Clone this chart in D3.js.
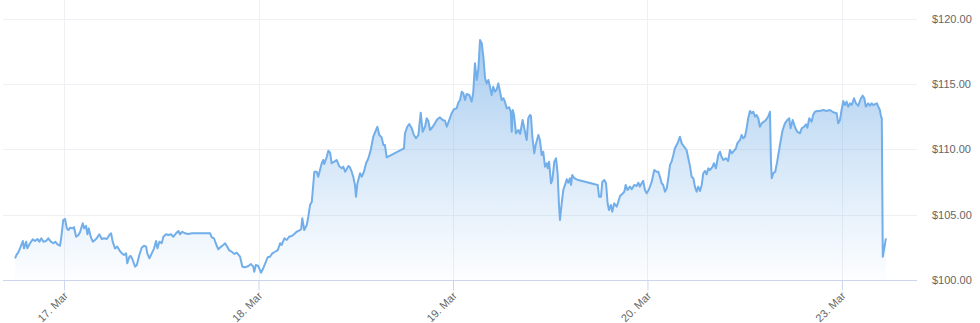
<!DOCTYPE html>
<html><head><meta charset="utf-8">
<script src="https://cdn.jsdelivr.net/npm/d3@7"></script>
<style>
html,body{margin:0;padding:0;background:#fff;}
svg{display:block;font-family:"Liberation Sans",Arial,sans-serif;}
</style></head>
<body><svg id="chart" width="980" height="323"></svg>
<script>
// time in trading days (0 = 17 Mar), price in USD
const times = [
-0.252,-0.243,-0.237,-0.223,-0.212,-0.206,-0.195,-0.189,-0.175,-0.161,-0.149,-0.137,-0.127,-0.117,-0.106,-0.093,-0.081,-0.068,-0.055,-0.045,-0.034,-0.021,-0.015,-0.004,
0.005,0.014,0.022,0.031,0.045,0.051,0.062,0.074,0.082,0.096,0.103,0.113,0.120,0.127,0.137,0.148,0.159,0.168,0.181,0.194,0.206,0.220,0.233,0.242,0.250,0.262,0.274,0.284,0.297,0.308,0.319,0.325,0.336,0.343,0.353,0.365,0.374,0.387,0.399,0.411,0.422,0.428,0.439,0.451,0.463,0.473,0.480,0.490,0.502,0.511,0.524,0.536,0.549,0.562,0.576,0.588,0.596,
0.608,0.622,0.639,0.657,0.751,0.759,0.771,0.780,0.793,0.807,0.819,0.828,0.837,0.848,0.862,0.876,0.888,0.905,0.917,0.931,0.948,0.961,0.973,0.978,0.986,0.999,
1.013,1.020,1.033,1.047,1.059,1.071,1.085,1.099,1.111,1.119,1.133,1.145,1.157,1.171,1.184,1.196,1.208,1.219,1.225,1.235,1.248,1.256,1.265,1.274,1.282,1.287,1.299,1.307,1.316,1.325,1.333,1.338,1.351,1.359,1.368,1.376,1.390,1.402,1.414,1.428,1.436,1.445,1.453,1.462,1.470,1.479,1.487,1.496,1.501,1.508,1.522,1.531,1.542,1.553,1.565,1.577,1.590,1.604,1.611,1.621,1.633,1.642,1.650,1.659,1.748,1.753,1.765,1.775,1.788,1.799,1.810,1.822,1.834,1.844,1.856,1.865,1.873,1.882,1.896,1.907,1.919,1.933,1.947,1.959,1.968,1.981,1.993,
2.005,2.019,2.027,2.036,2.045,2.053,2.062,2.070,2.084,2.096,2.104,2.113,2.122,2.130,2.139,2.148,2.156,2.165,2.173,2.182,2.190,2.199,2.207,2.216,2.225,2.233,2.242,2.250,2.259,2.267,2.276,2.289,2.297,2.302,2.307,2.314,2.324,2.336,2.345,2.358,2.370,2.379,2.387,2.396,2.401,2.408,2.418,2.425,2.439,2.447,2.456,2.464,2.473,2.482,2.487,2.494,2.504,2.511,2.521,2.530,2.538,2.545,2.550,2.559,2.567,2.576,2.585,2.593,2.601,2.607,2.613,2.624,2.636,2.644,2.744,2.751,2.761,2.768,2.778,2.787,2.795,2.802,2.812,2.819,2.829,2.842,2.850,2.859,2.870,2.881,2.888,2.898,2.910,2.919,2.932,2.944,2.953,2.961,2.970,2.978,2.987,2.996,
3.008,3.022,3.035,3.047,3.056,3.064,3.073,3.081,3.090,3.099,3.107,3.116,3.124,3.133,3.141,3.150,3.158,3.167,3.176,3.189,3.201,3.210,3.219,3.227,3.236,3.244,3.253,3.261,3.270,3.279,3.287,3.296,3.304,3.313,3.321,3.335,3.342,3.352,3.364,3.373,3.381,3.390,3.404,3.415,3.424,3.433,3.441,3.455,3.462,3.476,3.484,3.493,3.501,3.510,3.518,3.527,3.536,3.544,3.553,3.561,3.570,3.578,3.587,3.599,3.609,3.621,3.630,3.635,3.639,3.647,3.657,3.667,3.681,3.695,3.707,3.719,3.729,3.736,3.747,3.758,3.770,3.784,3.793,3.805,3.815,3.822,3.832,3.844,3.852,3.861,3.873,3.887,3.904,3.921,3.938,3.955,3.973,3.981,3.990,3.998,
4.007,4.015,4.024,4.032,4.041,4.050,4.062,4.072,4.084,4.096,4.106,4.115,4.123,4.135,4.144,4.153,4.161,4.170,4.180,4.187,4.195,4.201,4.205,4.210,4.216,4.226
];
const prices = [
101.66,101.97,102.06,102.55,102.98,102.42,102.93,102.42,102.81,103.11,102.98,103.14,102.93,103.19,102.93,102.98,103.19,102.93,102.81,102.93,102.73,102.62,103.19,104.59,
104.67,103.95,103.82,104.00,103.95,104.05,103.31,103.44,103.65,104.34,103.95,104.15,103.50,103.95,103.31,102.93,103.06,103.19,103.50,103.14,103.19,103.14,103.44,103.57,102.93,102.42,102.55,102.29,102.04,101.91,102.04,101.28,101.78,101.84,101.53,101.02,101.15,101.91,102.47,102.62,102.55,102.04,101.66,102.04,102.42,102.98,102.42,102.93,102.81,103.31,103.50,103.44,103.50,103.31,103.57,103.75,103.50,
103.69,103.57,103.52,103.57,103.57,103.27,103.19,102.81,102.35,102.55,102.68,102.81,102.60,102.29,102.16,101.99,102.09,101.78,101.02,100.97,101.07,101.22,101.02,100.63,101.15,101.07,
100.56,100.76,101.22,101.74,101.78,102.04,102.16,102.29,102.81,102.68,103.19,103.06,103.31,103.37,103.52,103.69,103.77,103.88,104.72,103.82,104.21,104.84,105.74,105.99,107.40,108.28,108.28,107.90,108.41,108.93,109.18,108.87,109.43,109.89,109.74,108.93,109.05,109.18,108.72,108.54,108.67,108.28,108.47,108.72,108.62,108.28,107.90,107.27,106.37,107.34,108.16,107.90,108.28,108.93,109.31,109.94,110.96,111.47,111.72,111.09,110.91,110.32,110.32,109.38,110.07,111.22,111.72,111.93,111.60,111.09,110.84,111.09,112.80,111.34,111.72,112.37,112.18,111.47,111.72,111.98,112.29,112.44,112.24,112.18,111.72,112.24,112.75,
113.06,113.13,113.56,113.77,114.40,114.28,113.77,114.23,114.15,113.64,114.32,116.57,115.30,116.06,118.36,118.10,117.08,115.43,115.04,115.30,114.78,114.15,114.78,114.40,114.58,115.04,114.40,113.77,113.90,113.64,113.13,113.21,112.87,111.34,113.00,112.62,111.22,111.47,111.17,112.24,111.34,110.71,112.37,112.62,112.54,110.96,109.69,110.32,111.09,110.71,109.56,109.81,108.67,108.93,108.54,109.05,107.40,107.65,109.05,109.31,108.16,105.74,104.59,105.87,106.88,107.27,107.70,107.44,107.78,107.27,108.03,107.78,107.70,107.65,107.27,106.37,106.37,107.52,107.65,107.40,105.87,105.35,105.74,105.22,105.87,105.61,105.99,106.42,106.58,106.75,107.27,106.88,107.14,106.94,107.27,107.19,107.44,107.14,107.40,107.59,106.88,106.63,
106.94,107.52,108.41,108.28,108.28,107.90,107.40,107.27,106.75,107.01,107.78,108.80,109.05,109.56,110.07,110.32,110.58,110.96,110.45,110.19,109.94,109.31,108.67,107.90,107.78,107.14,106.75,107.14,106.81,107.27,108.16,108.34,108.08,108.54,108.41,108.67,108.93,108.54,109.56,109.81,109.43,109.18,109.31,109.10,109.94,109.69,109.81,110.07,110.45,110.71,111.09,110.84,110.96,111.60,112.37,112.93,112.75,112.87,112.49,112.62,112.37,111.72,111.98,112.11,112.24,112.49,112.87,109.05,107.78,108.16,108.28,109.05,110.32,111.47,111.98,112.24,112.37,111.60,112.24,111.72,111.34,111.22,111.60,111.72,111.91,111.65,112.37,112.11,112.62,112.87,112.93,112.93,113.00,112.93,113.00,112.83,112.75,111.98,112.24,113.00,
113.69,113.38,113.64,113.25,113.51,113.38,113.90,113.51,113.33,113.84,114.10,113.90,113.25,113.51,113.33,113.51,113.38,113.44,113.51,113.25,113.00,112.49,112.37,101.78,102.29,103.19
];
const tickDays = [0, 1, 2, 3, 4];
const tickLabels = ["17. Mar", "18. Mar", "19. Mar", "20. Mar", "23. Mar"];
const priceTicks = [100, 105, 110, 115, 120];

const data = times.map((t, i) => ({t, v: prices[i]}));
const svg = d3.select("#chart");
const plotLeft = 3, plotRight = 917, plotTop = 0, plotBottom = 280;
const x = d3.scaleLinear().domain([-0.314, 4.386]).range([plotLeft, plotRight]);
const y = d3.scaleLinear().domain([100, 120]).range([plotBottom, 18.5]);

const defs = svg.append("defs");
const grad = defs.append("linearGradient").attr("id", "fillGrad")
  .attr("gradientUnits", "userSpaceOnUse")
  .attr("x1", 0).attr("x2", 0).attr("y1", y(118.4)).attr("y2", plotBottom);
grad.append("stop").attr("offset", 0).attr("stop-color", "#5b9fe0").attr("stop-opacity", 0.55);
grad.append("stop").attr("offset", 1).attr("stop-color", "#7cb5ec").attr("stop-opacity", 0.02);

// horizontal grid
svg.append("g").selectAll("line").data(priceTicks.filter(d => d !== 100)).join("line")
  .attr("x1", plotLeft).attr("x2", plotRight)
  .attr("y1", d => Math.round(y(d)) + 0.5).attr("y2", d => Math.round(y(d)) + 0.5)
  .attr("stroke", "#eef0f4").attr("stroke-width", 1);
// vertical grid
svg.append("g").selectAll("line").data(tickDays).join("line")
  .attr("x1", d => Math.round(x(d)) + 0.5).attr("x2", d => Math.round(x(d)) + 0.5)
  .attr("y1", plotTop).attr("y2", plotBottom)
  .attr("stroke", "#eef0f4").attr("stroke-width", 1);

// area and line
const area = d3.area().x(d => x(d.t)).y0(plotBottom).y1(d => y(d.v));
svg.append("path").datum(data).attr("d", area).attr("fill", "url(#fillGrad)");
const line = d3.line().x(d => x(d.t)).y(d => y(d.v));
svg.append("path").datum(data).attr("d", line).attr("fill", "none")
  .attr("stroke", "#72aee9").attr("stroke-width", 2).attr("stroke-linejoin", "round");

// x axis
const xAxis = d3.axisBottom(x).tickValues(tickDays).tickFormat((d, i) => tickLabels[i]).tickSize(10).tickPadding(6);
const gx = svg.append("g").attr("transform", `translate(0,${plotBottom + 0.5})`).call(xAxis);
gx.select(".domain").attr("stroke", "#ccd6eb").attr("d", `M${plotLeft},0H${plotRight}`);
gx.selectAll(".tick line").attr("stroke", "#ccd6eb");
gx.selectAll(".tick text").attr("fill", "#666").attr("font-size", 11)
  .attr("text-anchor", "end").attr("dy", null)
  .attr("transform", "translate(4,16) rotate(-45)").attr("y", 0).attr("x", 0);

// y axis (right)
const yAxis = d3.axisRight(y).tickValues(priceTicks).tickFormat(d => "$" + d3.format(".2f")(d)).tickSize(0).tickPadding(0);
const gy = svg.append("g").attr("transform", `translate(932,0)`).call(yAxis);
gy.select(".domain").remove();
gy.selectAll(".tick text").attr("fill", "#666").attr("font-size", 11).attr("dy", "0.32em");
</script></body></html>
